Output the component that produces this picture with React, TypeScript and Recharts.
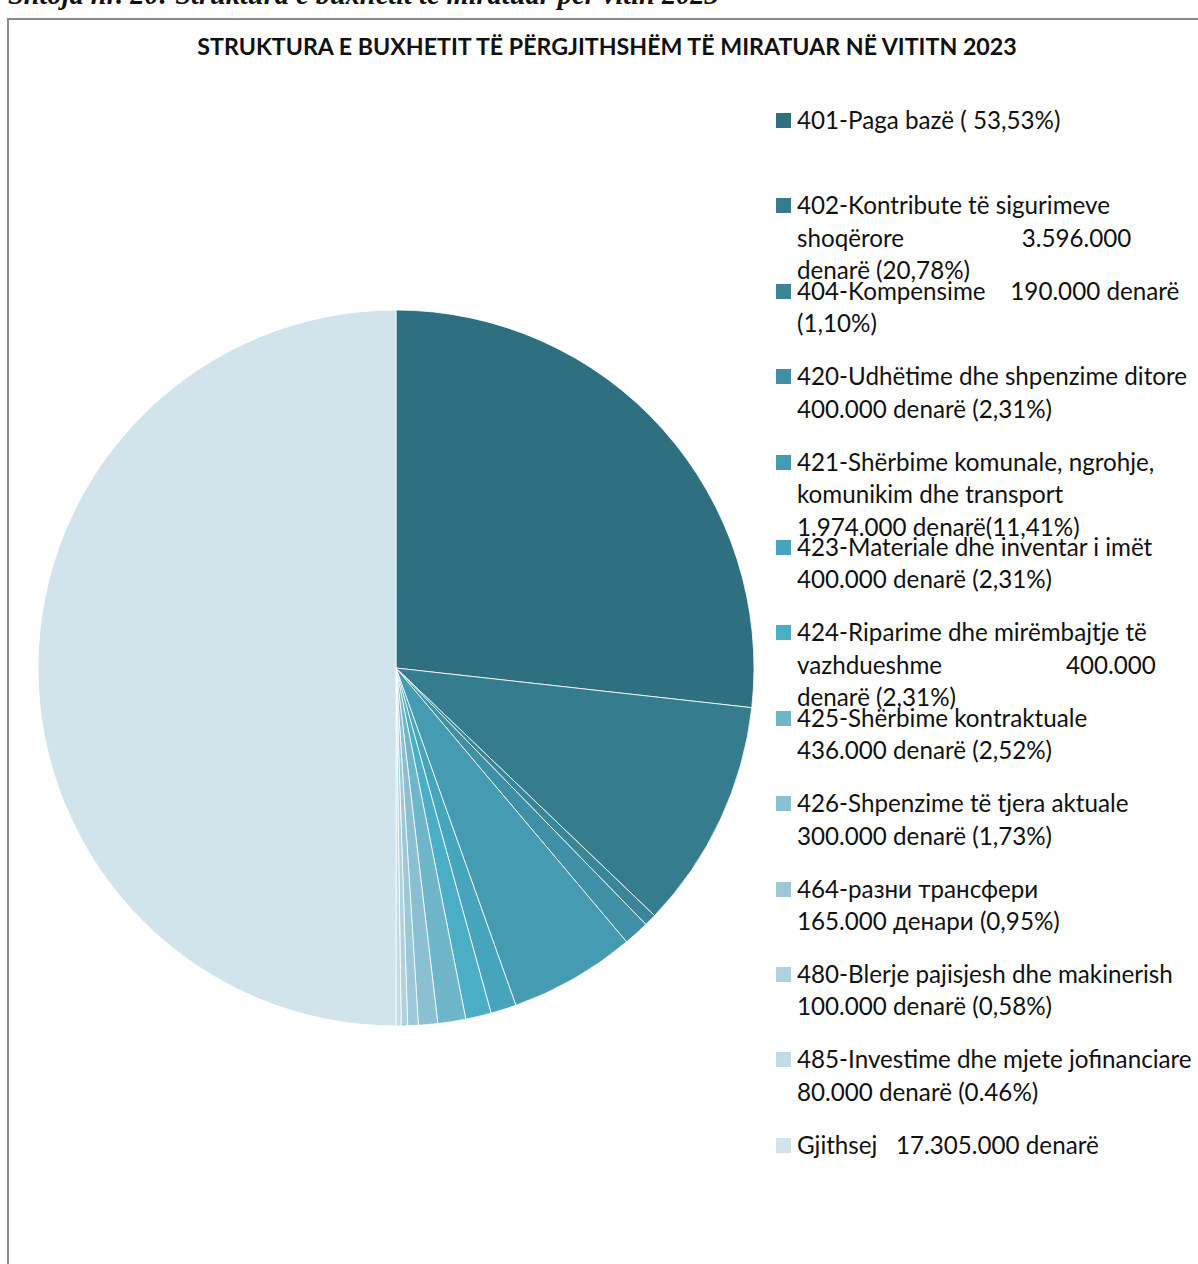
import React from "react";
import { PieChart, Pie, Cell, Legend } from "recharts";

const codes = ["401", "402", "404", "420", "421", "423", "424", "425", "426", "464", "480", "485", "Gjithsej"];

const values = [9264000, 3596000, 190000, 400000, 1974000, 400000, 400000, 436000, 300000, 165000, 100000, 80000, 17305000];

const labels = [
  "401-Paga bazë ( 53,53%)",
  "402-Kontribute të sigurimeve\nshoqërore                   3.596.000\ndenarë (20,78%)",
  "404-Kompensime    190.000 denarë\n(1,10%)",
  "420-Udhëtime dhe shpenzime ditore\n400.000 denarë (2,31%)",
  "421-Shërbime komunale, ngrohje,\nkomunikim dhe transport\n1.974.000 denarë(11,41%)",
  "423-Materiale dhe inventar i imët\n400.000 denarë (2,31%)",
  "424-Riparime dhe mirëmbajtje të\nvazhdueshme                    400.000\ndenarë (2,31%)",
  "425-Shërbime kontraktuale\n436.000 denarë (2,52%)",
  "426-Shpenzime të tjera aktuale\n300.000 denarë (1,73%)",
  "464-разни трансфери\n165.000 денари (0,95%)",
  "480-Blerje pajisjesh dhe makinerish\n100.000 denarë (0,58%)",
  "485-Investime dhe mjete jofinanciare\n80.000 denarë (0.46%)",
  "Gjithsej   17.305.000 denarë",
];

const colors = [
  "#2e7080", "#357c8f", "#3a8698", "#3f90a6", "#449bb2", "#46a4bd",
  "#4aaec7", "#70b6cb", "#8bbfd2", "#9dc8d9", "#aed2df", "#c1dce6", "#d1e3eb",
];

const data = codes.map((code, i) => ({ name: code, value: values[i] }));

const FONT = "Lato, 'Open Sans', sans-serif";

function LegendBox() {
  return (
    <div style={{ fontFamily: FONT, fontSize: 24.2, color: "#111", lineHeight: "32.5px" }}>
      {labels.map((label, i) => (
        <div key={codes[i]} style={{ position: "relative", height: 85.4, paddingLeft: 29 }}>
          <span
            style={{
              position: "absolute",
              left: 8,
              top: 9,
              width: 15,
              height: 15,
              background: colors[i],
            }}
          />
          <div style={{ whiteSpace: "pre" }}>{label}</div>
        </div>
      ))}
    </div>
  );
}

export default function App() {
  return (
    <div
      style={{
        position: "absolute",
        left: 0,
        top: 0,
        width: 1198,
        height: 1264,
        overflow: "hidden",
        background: "#fff",
      }}
    >
      <div
        style={{
          position: "absolute",
          left: 8,
          top: -21,
          fontFamily: "'Liberation Serif', serif",
          fontStyle: "italic",
          fontWeight: "bold",
          fontSize: 28.4,
          whiteSpace: "nowrap",
          color: "#111",
        }}
      >
        Shtoja nr. 20: Struktura e buxhetit të miratuar për vitin 2023
      </div>
      <div
        style={{
          position: "absolute",
          left: 7,
          top: 18,
          width: 1400,
          height: 1400,
          border: "2px solid #8a8a8a",
        }}
      />
      <div
        style={{
          position: "absolute",
          left: 0,
          top: 32,
          width: 1214,
          textAlign: "center",
          fontFamily: FONT,
          fontWeight: "bold",
          fontSize: 23.2,
          color: "#111",
          whiteSpace: "nowrap",
        }}
      >
        STRUKTURA E BUXHETIT TË PËRGJITHSHËM TË MIRATUAR NË VITITN 2023
      </div>
      <div style={{ position: "absolute", left: 0, top: 0 }}>
        <PieChart width={1198} height={1264} margin={{ top: 0, right: 0, bottom: 0, left: 0 }}>
          <Pie
            data={data}
            dataKey="value"
            nameKey="name"
            cx={396}
            cy={668}
            outerRadius={358}
            startAngle={90}
            endAngle={-270}
            stroke="#ffffff"
            strokeWidth={0.8}
            isAnimationActive={false}
          >
            {data.map((d, i) => (
              <Cell key={d.name} fill={colors[i]} />
            ))}
          </Pie>
          <Legend
            layout="vertical"
            align="right"
            verticalAlign="top"
            content={() => <LegendBox />}
            wrapperStyle={{ position: "absolute", left: 768, top: 104, width: 460 }}
          />
        </PieChart>
      </div>
    </div>
  );
}
